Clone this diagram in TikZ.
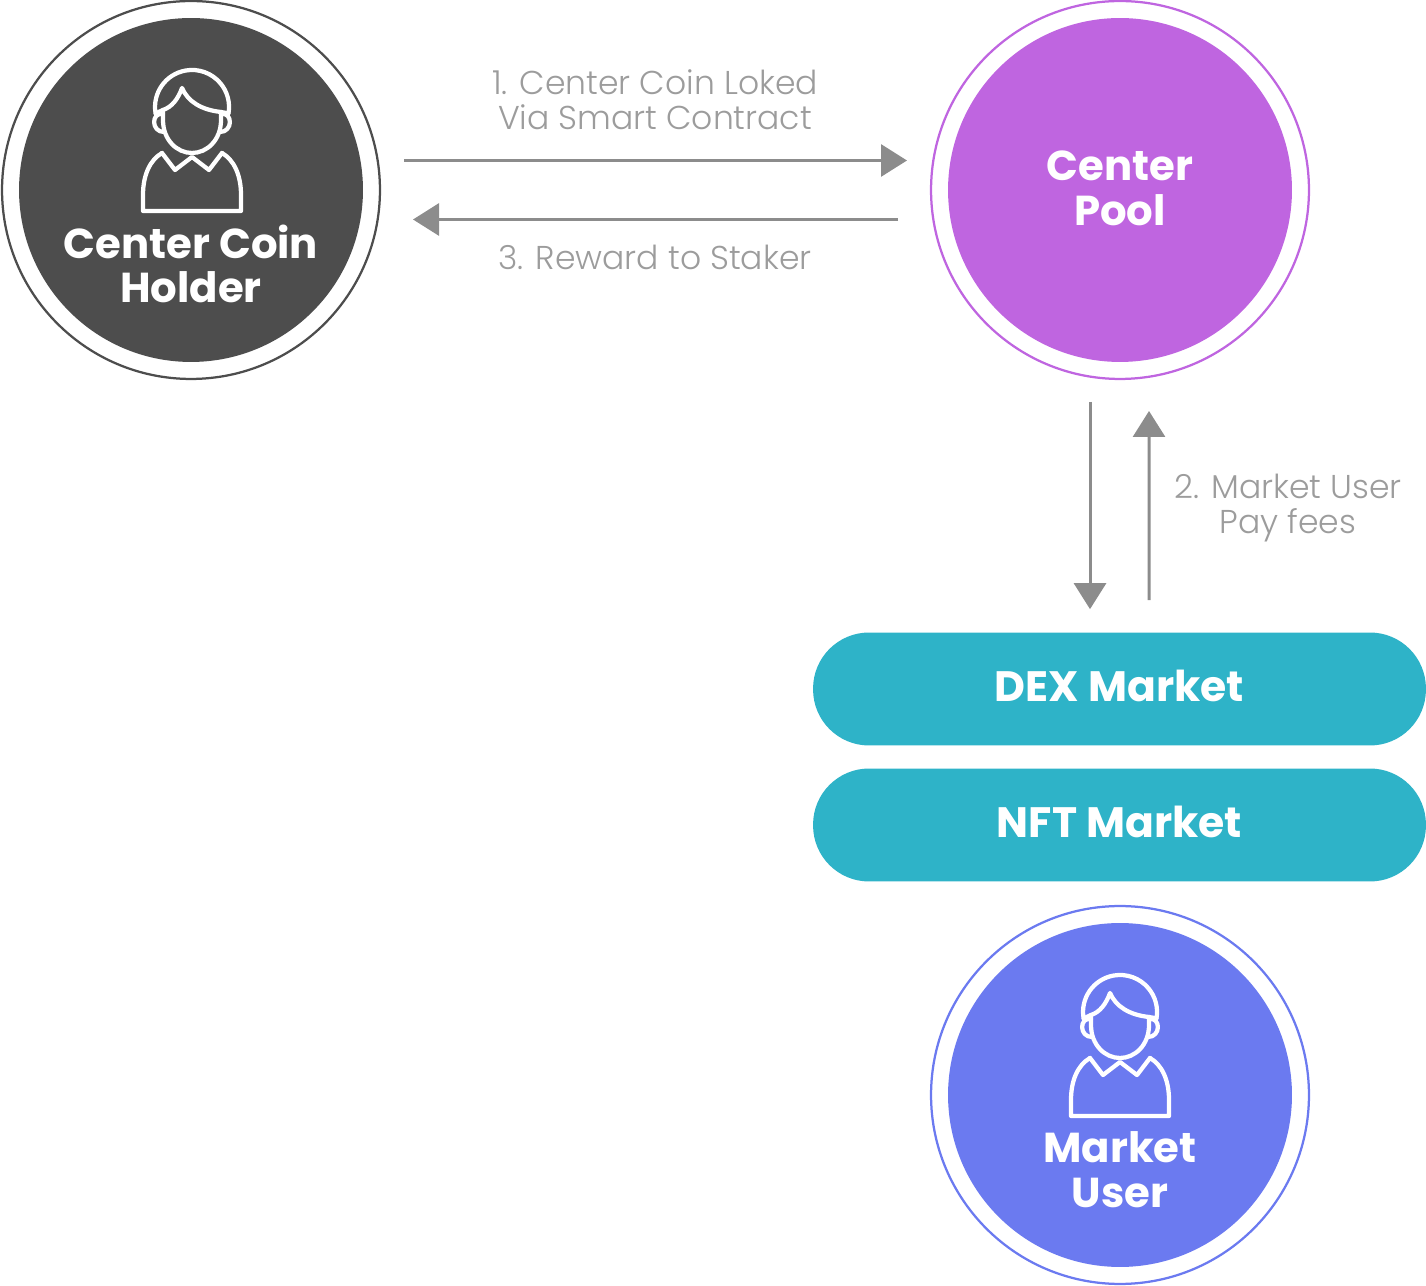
\documentclass[tikz,border=0pt]{standalone}
\usepackage{fontspec}
\setmainfont{Poppins}[UprightFont=* Light,BoldFont=* Bold]
\usetikzlibrary{calc,arrows.meta}
\definecolor{HolderGray}{HTML}{4D4D4D}
\definecolor{PoolPurple}{HTML}{BF65E0}
\definecolor{MarketTeal}{HTML}{2EB3C8}
\definecolor{UserBlue}{HTML}{6B7AF0}
\definecolor{FlowGray}{HTML}{8C8C8C}
\definecolor{NoteGray}{HTML}{9C9C9C}
\tikzset{
Flow/.style={draw=FlowGray,line width=0.06cm,-{Triangle[length=0.52cm,width=0.64cm]}},
Note/.style={text=NoteGray,align=center,font=\fontsize{18.8}{20}\selectfont},
Title/.style={text=white,align=center,font=\fontsize{23.8}{25.5}\selectfont\bfseries},
Ring/.style={circle,draw=#1,line width=0.045cm,minimum size=7.56cm,inner sep=0pt},
Disc/.style={circle,fill=#1,minimum size=6.88cm,inner sep=0pt},
Pill/.style={rectangle,fill=MarketTeal,rounded corners=1.12cm,minimum width=12.26cm,minimum height=2.26cm,text depth=3.4pt,text=white,font=\fontsize{24.2}{25.5}\selectfont\bfseries}
}
\newcommand{\MakeDisc}[3]{%
	\node[Ring=#3] (#1) at (#2) {};%
	\node[Disc=#3] (#1Fill) at (#2) {};%
}
\newcommand{\MakePerson}[1]{%
	\begin{scope}[shift={(#1)},draw=white,line width=0.085cm,line join=round,line cap=round]%
		\draw (-36.4,76.6) arc[start angle=190,end angle=-10,radius=37];%
		\draw (-36.4,76.6) -- (-29,80) .. controls (-20,83) and (-14,91) .. (-10,102) .. controls (-4,88) and (10,80) .. (29,78) -- (36.4,76.6);%
		\draw (-29,80) -- (-29,70) .. controls (-29,50) and (-15,37) .. (0,37) .. controls (15,37) and (29,50) .. (29,70) -- (29,78);%
		\draw (-29,76) .. controls (-41,78) and (-41,58) .. (-28,58);%
		\draw (29,76) .. controls (41,78) and (41,58) .. (28,58);%
		\draw (-30,37) -- (-17,20) -- (0,33) -- (17,20) -- (30,37);%
		\draw (-30,37) .. controls (-42,30) and (-49,15) .. (-49,-5) -- (-49,-21) -- (49,-21) -- (49,-5) .. controls (49,15) and (42,30) .. (30,37);%
	\end{scope}%
}

\begin{document}
\begin{tikzpicture}[x=0.02cm,y=0.02cm]
	\useasboundingbox (0,0) rectangle (1426,1285);
	
	% Circles
	\MakeDisc{Holder}{191,1095}{HolderGray}
	\MakeDisc{Pool}{1120,1095}{PoolPurple}
	\MakeDisc{User}{1120,190}{UserBlue}
	
	\MakePerson{192,1095}
	\MakePerson{1120,190}
	
	\node[Title] (HolderText) at (191,1021) {Center Coin\\Holder};
	\node[Title] (PoolText) at (1120,1097) {Center\\Pool};
	\node[Title] (UserText) at (1120,115) {Market\\User};
	
	% Markets
	\node[Pill] (Dex) at (1119.5,596) {DEX Market};
	\node[Pill] (Nft) at (1119.5,460) {NFT Market};
	
	% Flows
	\draw[Flow] ($(Holder.center)+(213,29.5)$) -- ($(Pool.center)+(-213,29.5)$);
	\draw[Flow] ($(Pool.center)+(-222,-29.5)$) -- ($(Holder.center)+(222,-29.5)$);
	\draw[Flow] ($(Pool.center)+(-30,-212)$) -- ($(Dex.north)+(-29.5,23)$);
	\draw[Flow] ($(Dex.north)+(29.5,32)$) -- ($(Pool.center)+(29,-221)$);
	
	\node[Note] (LockNote) at (655,1185) {1. Center Coin Loked\\Via Smart Contract};
	\node[Note] (RewardNote) at (655,1028) {3. Reward to Staker};
	\node[Note] (FeeNote) at (1288,777) {2. Market User\\Pay fees};
\end{tikzpicture}
\end{document}
